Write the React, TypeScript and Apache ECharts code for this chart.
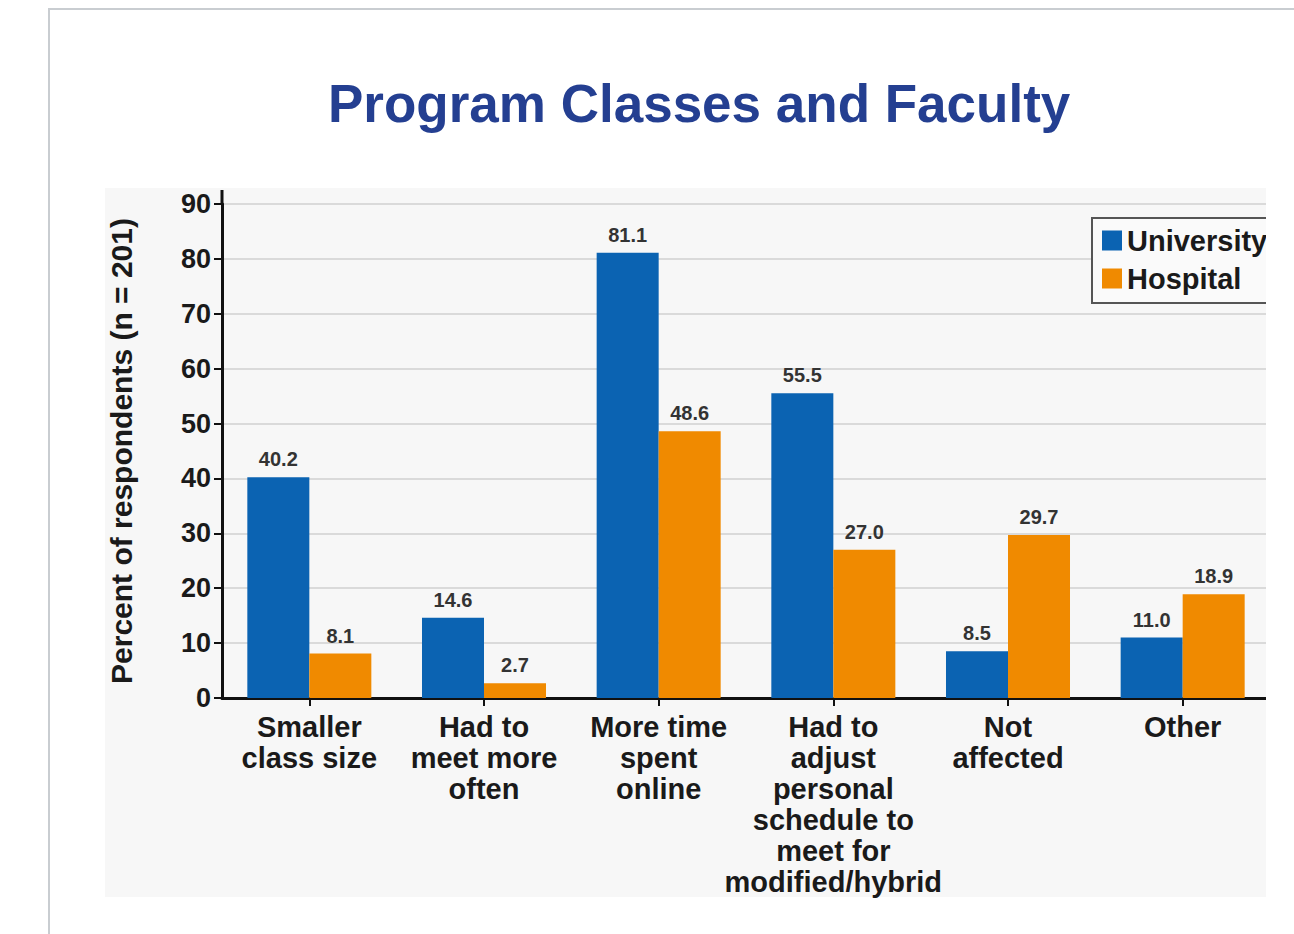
import React, { useEffect, useRef } from "react";
import * as echarts from "echarts";

const categories = [
  "Smaller\nclass size",
  "Had to\nmeet more\noften",
  "More time\nspent\nonline",
  "Had to\nadjust\npersonal\nschedule to\nmeet for\nmodified/hybrid",
  "Not\naffected",
  "Other",
];
const university = [40.2, 14.6, 81.1, 55.5, 8.5, 11.0];
const hospital = [8.1, 2.7, 48.6, 27.0, 29.7, 18.9];
const seriesNames = ["University", "Hospital"];
const titleText = "Program Classes and Faculty";
const yAxisName = "Percent of respondents (n = 201)";

const FONT = '"Liberation Sans", Arial, Helvetica, sans-serif';

export default function App() {
  const ref = useRef<HTMLDivElement>(null);
  useEffect(() => {
    if (!ref.current) return;
    const chart = echarts.init(ref.current, undefined, { renderer: "svg" });
    const labelStyle = {
      show: true,
      position: "top" as const,
      distance: 8,
      fontFamily: FONT,
      fontSize: 20,
      fontWeight: "bold" as const,
      color: "#333",
      formatter: (p: any) => Number(p.value).toFixed(1),
    };
    chart.setOption({
      animation: false,
      backgroundColor: "#ffffff",
      title: {
        text: titleText,
        left: 328,
        top: 77,
        padding: 0,
        textStyle: {
          fontFamily: FONT,
          fontSize: 53,
          fontWeight: "bold",
          color: "#243f91",
        },
      },
      legend: {
        orient: "vertical",
        left: 1092,
        top: 218,
        padding: [8, 10, 10, 10],
        itemGap: 9,
        itemWidth: 20,
        itemHeight: 20,
        borderColor: "#555",
        borderWidth: 2,
        backgroundColor: "#fafafa",
        icon: "rect",
        data: seriesNames,
        textStyle: {
          fontFamily: FONT,
          fontSize: 29,
          fontWeight: "bold",
          color: "#1a1a1a",
        },
      },
      graphic: [
        {
          type: "rect",
          z: -10,
          shape: { x: 105, y: 188, width: 1161, height: 709 },
          style: { fill: "#f7f7f7" },
          silent: true,
        },
        {
          type: "line",
          z: -5,
          shape: { x1: 48, y1: 9, x2: 1294, y2: 9 },
          style: { stroke: "#c9cdd1", lineWidth: 2 },
          silent: true,
        },
        {
          type: "line",
          z: -5,
          shape: { x1: 49, y1: 9, x2: 49, y2: 934 },
          style: { stroke: "#c9cdd1", lineWidth: 2 },
          silent: true,
        },
        {
          type: "line",
          z: 50,
          shape: { x1: 222, y1: 190, x2: 222, y2: 205 },
          style: { stroke: "#111", lineWidth: 3 },
          silent: true,
        },
        {
          type: "rect",
          z: 100,
          shape: { x: 1266, y: 11, width: 40, height: 930 },
          style: { fill: "#ffffff" },
          silent: true,
        },
      ],
      grid: {
        left: 222,
        right: 24,
        top: 204,
        bottom: 236,
        containLabel: false,
      },
      xAxis: {
        type: "category",
        data: categories,
        axisLine: { show: true, lineStyle: { color: "#111", width: 3 } },
        axisTick: {
          show: true,
          alignWithLabel: true,
          length: 8,
          lineStyle: { color: "#111", width: 2 },
        },
        axisLabel: {
          interval: 0,
          margin: 13,
          fontFamily: FONT,
          fontSize: 29,
          fontWeight: "bold",
          lineHeight: 31,
          color: "#1a1a1a",
        },
        splitLine: { show: false },
      },
      yAxis: {
        type: "value",
        min: 0,
        max: 90,
        interval: 10,
        name: yAxisName,
        nameLocation: "middle",
        nameGap: 86,
        nameTextStyle: {
          fontFamily: FONT,
          fontSize: 30,
          fontWeight: "bold",
          color: "#1a1a1a",
        },
        axisLine: { show: true, lineStyle: { color: "#111", width: 3 } },
        axisTick: {
          show: true,
          length: 8,
          lineStyle: { color: "#111", width: 2 },
        },
        axisLabel: {
          margin: 11,
          fontFamily: FONT,
          fontSize: 27,
          fontWeight: "bold",
          color: "#1a1a1a",
        },
        splitLine: { show: true, lineStyle: { color: "#dadada", width: 2 } },
      },
      series: [
        {
          name: seriesNames[0],
          type: "bar",
          data: university,
          barGap: "0%",
          barCategoryGap: "29%",
          itemStyle: { color: "#0b63b2" },
          label: labelStyle,
        },
        {
          name: seriesNames[1],
          type: "bar",
          data: hospital,
          barGap: "0%",
          barCategoryGap: "29%",
          itemStyle: { color: "#f08a00" },
          label: labelStyle,
        },
      ],
    });
    return () => chart.dispose();
  }, []);
  return (
    <div
      ref={ref}
      style={{ position: "fixed", left: 0, top: 0, width: 1294, height: 934 }}
    />
  );
}
